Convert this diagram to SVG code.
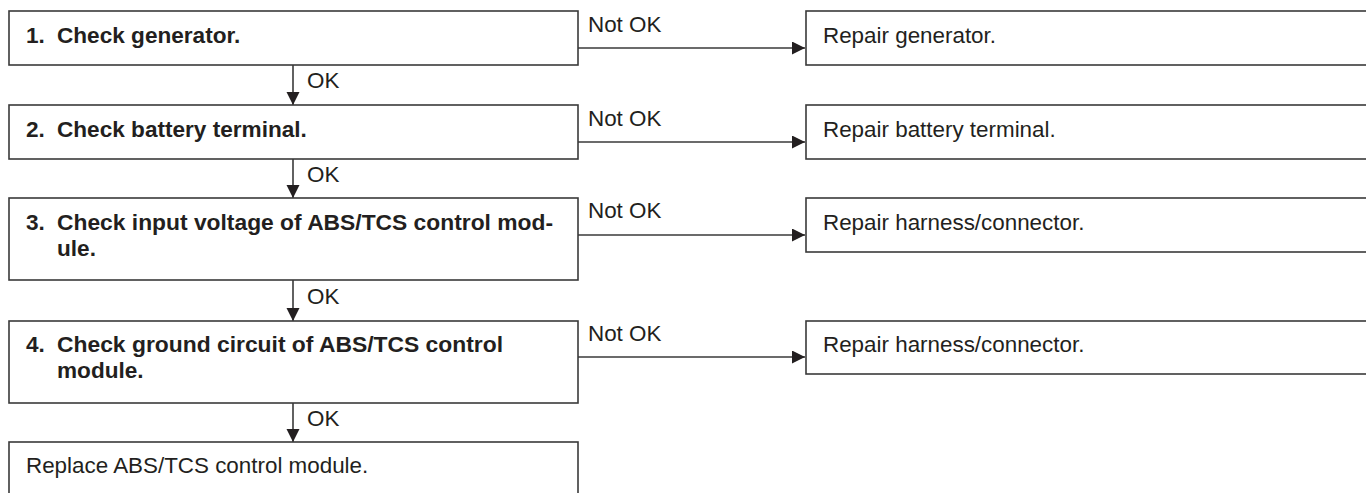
<svg xmlns="http://www.w3.org/2000/svg" width="1366" height="493" viewBox="0 0 1366 493">
<style>
.box{fill:#fff;stroke:#3a3a3a;stroke-width:1.6}
.t{font-family:"Liberation Sans",Arial,Helvetica,sans-serif;font-size:22.4px;fill:#231f20}
.b{font-weight:bold;font-size:22.6px}
.con{stroke:#3a3a3a;stroke-width:1.6;fill:none}
</style>
<defs>
<marker id="ah" markerUnits="userSpaceOnUse" markerWidth="14" markerHeight="14" refX="13" refY="6.5" orient="auto">
<path d="M0,0 L13,6.5 L0,13 z" fill="#231f20"/>
</marker>
</defs>
<rect width="1366" height="493" fill="#fff"/>
<g id="connectors">
<path class="con" d="M578,48 H805" marker-end="url(#ah)"/>
<path class="con" d="M578,142 H805" marker-end="url(#ah)"/>
<path class="con" d="M578,235 H805" marker-end="url(#ah)"/>
<path class="con" d="M578,357 H805" marker-end="url(#ah)"/>
<path class="con" d="M293,65 V105" marker-end="url(#ah)"/>
<path class="con" d="M293,159 V198" marker-end="url(#ah)"/>
<path class="con" d="M293,280 V321" marker-end="url(#ah)"/>
<path class="con" d="M293,403 V442" marker-end="url(#ah)"/>
<text class="t" x="588" y="32">Not OK</text>
<text class="t" x="588" y="126">Not OK</text>
<text class="t" x="588" y="218">Not OK</text>
<text class="t" x="588" y="341">Not OK</text>
<text class="t" x="307" y="88">OK</text>
<text class="t" x="307" y="182">OK</text>
<text class="t" x="307" y="304">OK</text>
<text class="t" x="307" y="426">OK</text>
</g>
<g id="step1">
<rect class="box" x="9" y="11" width="569" height="54"/>
<text class="t b" y="43"><tspan x="26">1.</tspan><tspan x="57">Check generator.</tspan></text>
</g>
<g id="step2">
<rect class="box" x="9" y="105" width="569" height="54"/>
<text class="t b" y="137"><tspan x="26">2.</tspan><tspan x="57">Check battery terminal.</tspan></text>
</g>
<g id="step3">
<rect class="box" x="9" y="198" width="569" height="82"/>
<text class="t b" y="230"><tspan x="26">3.</tspan></text>
<text class="t b" x="57" y="230" textLength="496" lengthAdjust="spacingAndGlyphs">Check input voltage of ABS/TCS control mod-</text>
<text class="t b" x="57" y="256">ule.</text>
</g>
<g id="step4">
<rect class="box" x="9" y="321" width="569" height="82"/>
<text class="t b" y="352"><tspan x="26">4.</tspan></text>
<text class="t b" x="57" y="352" textLength="446" lengthAdjust="spacingAndGlyphs">Check ground circuit of ABS/TCS control</text>
<text class="t b" x="57" y="378">module.</text>
</g>
<g id="replace-module">
<rect class="box" x="9" y="442" width="569" height="60"/>
<text class="t" x="26" y="473">Replace ABS/TCS control module.</text>
</g>
<g id="repair1">
<rect class="box" x="806" y="11" width="570" height="54"/>
<text class="t" x="823" y="43">Repair generator.</text>
</g>
<g id="repair2">
<rect class="box" x="806" y="105" width="570" height="54"/>
<text class="t" x="823" y="137">Repair battery terminal.</text>
</g>
<g id="repair3">
<rect class="box" x="806" y="198" width="570" height="54"/>
<text class="t" x="823" y="230">Repair harness/connector.</text>
</g>
<g id="repair4">
<rect class="box" x="806" y="321" width="570" height="53"/>
<text class="t" x="823" y="352">Repair harness/connector.</text>
</g>
</svg>
